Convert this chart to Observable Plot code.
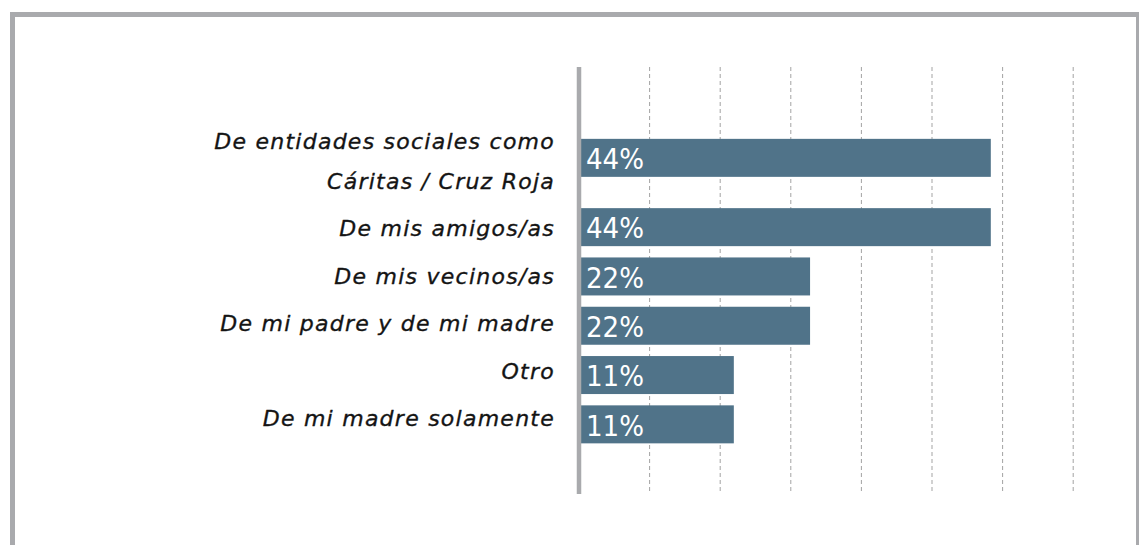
<!DOCTYPE html>
<html>
<head>
<meta charset="utf-8">
<script src="https://cdn.jsdelivr.net/npm/d3@7"></script>
<script src="https://cdn.jsdelivr.net/npm/@observablehq/plot@0.6"></script>
<style>
  html, body { margin: 0; padding: 0; background: #fff; overflow: hidden; }
  #frame { position: absolute; left: 10px; top: 12px; width: 1121px; height: 600px;
           border: 5px solid #a9aaad; border-bottom: none; box-sizing: content-box; }
  #chart { position: absolute; left: 0; top: 0; }
  #chart g[font-family="DejaVu Sans"] text { letter-spacing: 1.25px; }
</style>
</head>
<body>
<div id="frame"></div>
<div id="chart"></div>
<script>
// Data
const categories = [
  "De entidades sociales como\nCáritas / Cruz Roja",
  "De mis amigos/as",
  "De mis vecinos/as",
  "De mi padre y de mi madre",
  "Otro",
  "De mi madre solamente"
];
const barLengths = [58.4, 58.4, 32.8, 32.8, 22.0, 22.0]; // bar length in grid units (10 per gridline)
const valueLabels = ["44%", "44%", "22%", "22%", "11%", "11%"];
const gridTicks = [10, 20, 30, 40, 50, 60, 70];

// Row layout derived from the number of label lines
const LINE = 40, GAP = 9.3, BAR = 38, PAD_TOP = 46.2, PAD_BOTTOM = 45;
const LGAP = 7.5, LPAD = 50.25; // label column flows slightly tighter than the bars
let cursor = PAD_TOP, lcursor = LPAD;
const rows = categories.map((c, i) => {
  const lines = c.split("\n").length;
  const h = lines * LINE + GAP;
  const lh = lines * LINE + LGAP;
  const start = cursor, lstart = lcursor;
  cursor += h;
  lcursor += lh;
  return {
    category: c,
    value: barLengths[i],
    label: valueLabels[i],
    y1: start + (h - BAR) / 2,
    y2: start + (h + BAR) / 2,
    yc: start + h / 2,
    ly: lstart + lh / 2
  };
});
const total = cursor + PAD_BOTTOM;

const chart = Plot.plot({
  width: 1139,
  height: 545,
  marginLeft: 578.5,
  marginRight: 66.3,
  marginTop: 67,
  marginBottom: 51,
  x: { domain: [0, 70], axis: null },
  y: { domain: [0, total], reverse: true, axis: null },
  style: { background: "transparent" },
  marks: [
    Plot.ruleX(gridTicks, { stroke: "#a3a3a3", strokeWidth: 1, strokeDasharray: "4,3" }),
    Plot.rect(rows, { x1: 0, x2: "value", y1: "y1", y2: "y2", fill: "#507389" }),
    Plot.ruleX([0], { stroke: "#a9aaad", strokeWidth: 4.5 }),
    Plot.text(rows, {
      x: 0, y: "ly", text: "category", textAnchor: "end", dx: -24, dy: -5.5,
      fontSize: 22, fontStyle: "italic", fontFamily: "DejaVu Sans",
      lineHeight: 40 / 22, fill: "#141414", stroke: "#141414", strokeWidth: 0.35
    }),
    Plot.text(rows, {
      x: 0, y: "yc", text: "label", textAnchor: "start", dx: 7, dy: 1.5,
      fontSize: 29, fontFamily: "DejaVu Sans Condensed", fill: "#ffffff"
    })
  ]
});
document.getElementById("chart").appendChild(chart);
</script>
</body>
</html>
